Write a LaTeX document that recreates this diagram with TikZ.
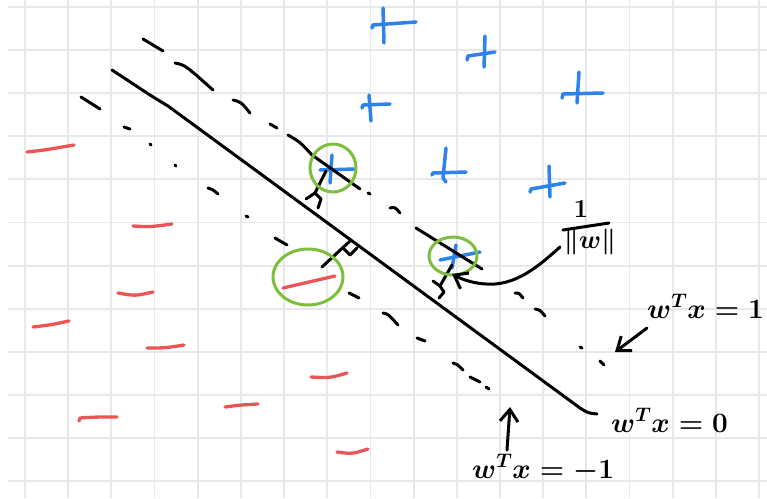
\documentclass[tikz,border=0pt]{standalone}
\usepackage{fix-cm}
\usetikzlibrary{arrows.meta,calc}
\definecolor{gridc}{RGB}{232,232,232}
\definecolor{pblue}{RGB}{45,130,235}
\definecolor{mred}{RGB}{235,85,85}
\definecolor{cgreen}{RGB}{125,190,60}
\begin{document}
\begin{tikzpicture}[x=1pt,y=-1pt, line cap=round, line join=round,
  ink/.style={line width=3pt, black},
  plusink/.style={line width=3.5pt, pblue},
  minusink/.style={line width=3.3pt, mred},
  svring/.style={line width=3pt, cgreen},
  gridline/.style={line width=1.8pt, gridc, line cap=butt},
  barb/.style={-{Straight Barb[length=12pt,width=18pt]}},
  lbl/.style={font=\fontsize{28}{32}\selectfont\boldmath, inner sep=0pt, anchor=base west},
  frac/.style={font=\fontsize{26}{30}\selectfont\boldmath, inner sep=0pt}]
\fill[white] (0,0) rectangle (767,498);
\useasboundingbox (0,0) rectangle (767,498);
% grid paper
\foreach \k in {0,...,17} \draw[gridline] ({25+43.18*\k},0) -- ({25+43.18*\k},498);
\foreach \k in {0,...,11} \draw[gridline] (8,{6.7+43.15*\k}) -- (767,{6.7+43.15*\k});

% blue plus signs
\draw[plusink] (372,28) -- (373,25) -- (416,22);  \draw[plusink] (383,8) -- (384,43);
\draw[plusink] (467,60) -- (468,56) -- (495,52);  \draw[plusink] (485,36) -- (484,67);
\draw[plusink] (562,98) -- (563,94) -- (603,93);  \draw[plusink] (579,72) -- (577,103);
\draw[plusink] (362,108) -- (363,105) -- (390,104); \draw[plusink] (369,95) -- (371,121);
\draw[plusink] (432,175) -- (433,173) -- (466,172); \draw[plusink] (446,148) -- (443,178) -- (446,182);
\draw[plusink] (530,192) -- (531,189) -- (565,183); \draw[plusink] (549,166) -- (550,197);
\draw[plusink] (320,170) -- (355,169); \draw[plusink] (332,155) -- (330,183);
\draw[plusink] (440,260) -- (480,252); \draw[plusink] (456,245) -- (452,268);

% red minus signs
\draw[minusink] (27,152) .. controls (45,150) .. (74,145);
\draw[minusink] (133,226) .. controls (150,227) .. (172,224);
\draw[minusink] (118,293) .. controls (135,296) .. (153,292);
\draw[minusink] (33,327) .. controls (50,325) .. (69,321);
\draw[minusink] (147,348) .. controls (165,348) .. (184,345);
\draw[minusink] (283,288) -- (335,276);
\draw[minusink] (311,377) .. controls (330,378) .. (347,373);
\draw[minusink] (79,421) -- (80,418) .. controls (95,417) .. (117,417);
\draw[minusink] (225,407) .. controls (240,405) .. (258,404);
\draw[minusink] (337,452) .. controls (352,454) .. (368,449);

% separating hyperplane w^T x = 0
\draw[ink] (112,70) -- (150,95) .. controls (158,100) .. (168,106)
  -- (580,408) .. controls (588,413) .. (597,414);

% margin w^T x = 1 (dashed by hand)
\draw[ink] (143,39) -- (163,51);
\draw[ink] (175,63) .. controls (185,65) .. (213,90);
\draw[ink] (233,100) .. controls (241,102) .. (250,113);
\draw[ink] (270,124) -- (277,128);
\draw[ink] (288,135) .. controls (300,142) .. (312,155) -- (360,189);
\draw[ink] (368,193) -- (370,194);
\draw[ink] (390,208) .. controls (395,207) .. (400,213);
\draw[ink] (416,228) -- (482,269);
\draw[ink] (515,293) .. controls (519,293) .. (523,298);
\draw[ink] (535,309) .. controls (540,310) .. (545,316);
\draw[ink] (580,347) -- (582,348);
\draw[ink] (600,361) -- (604,365);

% margin w^T x = -1 (dashed by hand)
\draw[ink] (81,97) -- (100,109);
\draw[ink] (124,127) -- (130,129);
\draw[ink] (150,144) -- (151,145);
\draw[ink] (175,165) -- (176,166);
\draw[ink] (208,188) .. controls (212,189) .. (218,194);
\draw[ink] (246,216) -- (248,217);
\draw[ink] (275,238) -- (287,245);
\draw[ink] (349,293) -- (359,298);
\draw[ink] (383,313) .. controls (388,314) .. (398,325);
\draw[ink] (417,338) -- (425,341);
\draw[ink] (453,363) .. controls (457,364) .. (463,370);
\draw[ink] (470,377) -- (480,382);
\draw[ink] (486,387) -- (489,389);

% distances from support vectors to the hyperplane, with right-angle marks
\draw[ink] (326,171) -- (315,193);
\draw[ink] (306,199) -- (315,193) -- (321,199) -- (318,208);
\draw[ink] (322,267) -- (350,241);
\draw[ink] (343,248) -- (350,255) -- (357,248);
\draw[ink] (452,265) -- (440,286);
\draw[ink] (433,281) -- (440,286) -- (444,292) -- (439,298);

% support vector rings
\draw[svring] (333,168) ellipse [x radius=23, y radius=24];
\draw[svring] (453,256) ellipse [x radius=24, y radius=19];
\draw[svring] (308,277) ellipse [x radius=35, y radius=28];

% labels
\node[frac] (num) at (581,209) {$1$};
\node[frac] (den) at (590,242) {$\|w\|$};
\draw[ink] (563,230) -- (609,223);
\node[lbl] (l1) at (647,318) {$w^{T}x = 1$};
\node[lbl] (l0) at (611,432) {$w^{T}x = 0$};
\node[lbl] (lm) at (472,478) {$w^{T}x = -1$};

% arrows
\coordinate (a1s) at (560,247);
\coordinate (a1e) at (452,274);
\draw[ink, barb] (a1s) .. controls (540,265) and (520,282) .. (495,284) .. controls (480,285) and (465,281) .. (a1e);
\coordinate (a2s) at (647,328);
\coordinate (a2e) at (615,352);
\draw[ink, barb] (a2s) -- (a2e);
\coordinate (a3s) at (507,450);
\coordinate (a3e) at (510,407);
\draw[ink, barb] (a3s) -- (a3e);
\end{tikzpicture}
\end{document}
